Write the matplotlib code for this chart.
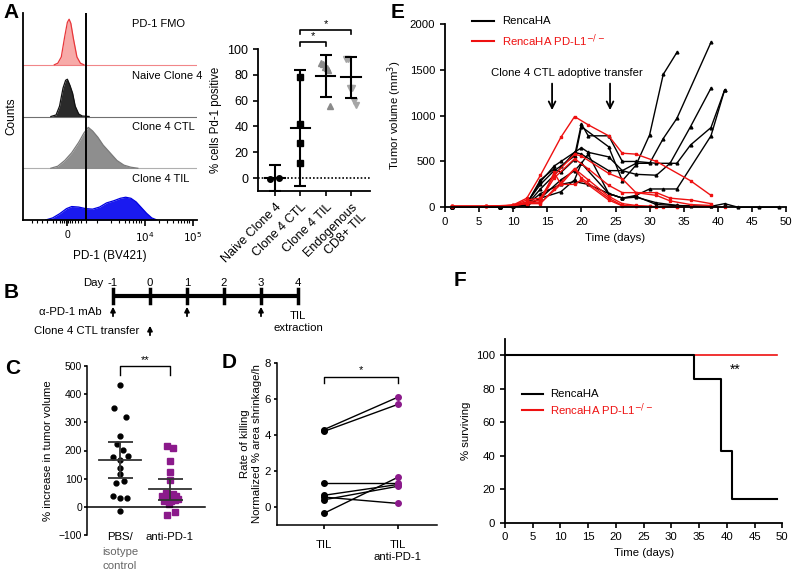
import numpy as np
import matplotlib.pyplot as plt

plt.rcParams['font.family'] = ['Liberation Sans', 'DejaVu Sans']
plt.rcParams['font.size'] = 8
plt.rcParams['axes.linewidth'] = 1.3
plt.rcParams['xtick.major.width'] = 1.2
plt.rcParams['ytick.major.width'] = 1.2
plt.rcParams['xtick.major.size'] = 3.5
plt.rcParams['ytick.major.size'] = 3.5

FS = 8.2

# ---------------- data ----------------
# A: histograms (display units along x, height relative to a lane)
hist_names = ['PD-1 FMO', 'Naive Clone 4', 'Clone 4 CTL', 'Clone 4 TIL']
fmo_x = [18, 20, 22, 24, 25.5, 26.5, 27.5, 29, 31, 33, 35]
fmo_h = [0, 0.03, 0.15, 0.55, 0.82, 0.88, 0.8, 0.5, 0.15, 0.03, 0]
naive_x = [16, 19, 21, 23, 24.5, 25.5, 27, 28.5, 30, 32, 34, 38]
naive_h = [0, 0.03, 0.2, 0.55, 0.7, 0.72, 0.6, 0.45, 0.2, 0.05, 0.01, 0]
ctl_x = [16, 20, 24, 28, 32, 35, 37.5, 40, 43, 46, 50, 54, 58, 62, 66]
ctl_h = [0, 0.04, 0.15, 0.3, 0.5, 0.68, 0.79, 0.72, 0.6, 0.45, 0.3, 0.15, 0.06, 0.02, 0]
til_x = [13, 17, 21, 25, 28, 32, 36, 40, 44, 48, 52, 56, 59, 62, 65, 68, 71, 74, 77]
til_h = [0, 0.04, 0.12, 0.22, 0.26, 0.25, 0.22, 0.21, 0.25, 0.33, 0.37, 0.42, 0.44,
         0.42, 0.35, 0.24, 0.13, 0.04, 0]
gate_pos = 36.2

# A: % cells PD-1 positive
a_groups = ['Naive Clone 4', 'Clone 4 CTL', 'Clone 4 TIL', 'Endogenous\nCD8+ TIL']
a_naive = [-1, 0]
a_ctl = [78, 42, 27, 12]
a_til = [89, 88, 86, 85, 84, 56]
a_endo = [92, 92, 70, 70, 60, 57]
a_mean = [0, 39, 79, 78]
a_sd = [10, 45, 16, 16]

# B: timeline
b_days = [-1, 0, 1, 2, 3, 4]
b_antibody = [-1, 1, 3]
b_transfer = [0]

# C: % increase in tumor volume
c_pbs = [432, 352, 320, 252, 222, 202, 182, 178, 165, 138, 115, 92, 86, 38, 33, 33, -15]
c_anti = [215, 210, 162, 125, 95, 50, 45, 40, 38, 35, 28, 25, 22, 20, 10, -20, -28]
c_mean = [167, 62]
c_lo = [103, 23]
c_hi = [230, 100]

# D: rate of killing
d_til = [4.3, 4.2, 1.35, 0.65, 0.55, 0.4, -0.35]
d_anti = [6.1, 5.7, 1.35, 1.25, 0.2, 1.15, 1.65]

# E: tumor growth curves (day, volume)
renca_days = [
    [1, 8, 10, 12, 14, 16, 17, 19, 20, 21, 24, 26, 28, 31, 34, 36, 39, 41],
    [1, 8, 10, 12, 14, 16, 17, 19, 20, 24, 26, 28, 30, 32, 34],
    [1, 8, 10, 12, 14, 16, 19, 20, 21, 24, 26, 28, 31, 33, 36, 39],
    [1, 8, 10, 12, 14, 17, 19, 20, 24, 26, 28, 30, 32, 34, 39, 41],
    [1, 8, 10, 12, 14, 16, 17, 19, 20, 24, 26, 28, 30, 32, 34, 39],
    [1, 8, 10, 12, 14, 17, 19, 21, 24, 26, 28, 31, 34, 39, 41, 43, 46, 49],
    [1, 8, 10, 12, 14, 17, 19, 20, 21, 24, 26, 28, 31, 34, 36, 39],
]
renca_vol = [
    [5, 5, 10, 50, 250, 400, 450, 560, 910, 780, 780, 500, 500, 480, 480, 680, 870, 1280],
    [5, 5, 10, 40, 300, 420, 380, 520, 880, 660, 290, 460, 790, 1450, 1690],
    [5, 5, 10, 30, 200, 350, 600, 650, 600, 550, 400, 360, 350, 480, 880, 1300],
    [5, 5, 10, 20, 100, 300, 400, 480, 150, 100, 130, 200, 200, 200, 780, 1280],
    [5, 5, 10, 40, 280, 450, 500, 600, 580, 400, 400, 480, 480, 750, 970, 1800],
    [5, 5, 10, 30, 150, 250, 280, 250, 150, 100, 120, 30, 20, 10, 40, 0, 0, 0],
    [5, 5, 10, 20, 100, 170, 300, 480, 580, 150, 100, 110, 50, 20, 10, 10],
]
ko_days = [
    [1, 6, 10, 12, 14, 17, 19, 21, 24, 26, 28, 31, 36, 39],
    [1, 6, 10, 12, 14, 16, 19, 20, 24, 26, 28, 31, 33, 36, 39],
    [1, 6, 10, 12, 14, 16, 19, 21, 24, 26, 28, 31, 33, 36, 39],
    [1, 6, 10, 12, 14, 16, 17, 19, 20, 24, 26, 28, 30, 32, 34],
    [1, 6, 10, 12, 14, 17, 19, 20, 24, 26, 28, 31, 34, 41],
    [1, 6, 10, 12, 14, 16, 19, 21, 24, 26, 28, 30],
]
ko_vol = [
    [10, 10, 25, 100, 350, 765, 990, 900, 780, 590, 580, 500, 290, 130],
    [10, 10, 20, 80, 100, 350, 580, 560, 370, 310, 160, 160, 100, 80, 40],
    [10, 10, 20, 60, 80, 320, 530, 420, 240, 160, 160, 130, 70, 30, 20],
    [10, 10, 20, 50, 60, 380, 250, 420, 320, 100, 20, 10, 10, 5, 5],
    [10, 10, 20, 40, 50, 250, 250, 300, 80, 15, 10, 5, 5, 5],
    [10, 10, 20, 40, 40, 200, 420, 300, 120, 40, 20, 10],
]
transfer_days = [15.7, 24.2]

# F: survival
f_days = [0, 34, 39, 41, 49]
f_renca = [100, 85.7, 42.9, 14.3, 14.3]
f_ko_days = [0, 49]
f_ko = [100, 100]

# ---------------- figure ----------------
W, H = 795, 572
fig = plt.figure(figsize=(W / 100, H / 100), dpi=100)


def add_ax(l, t, r, b):
    return fig.add_axes([l / W, 1 - b / H, (r - l) / W, (b - t) / H])


def strip(ax):
    ax.spines['top'].set_visible(False)
    ax.spines['right'].set_visible(False)
    ax.tick_params(direction='out')


# panel letters
for lab, x, y in [('A', 11, 12), ('B', 11, 293), ('C', 13, 368), ('D', 229, 362),
                  ('E', 398, 13), ('F', 460, 280)]:
    fig.text(x / W, 1 - y / H, lab, fontsize=15, fontweight='bold', ha='center', va='center')

# ---- A histograms ----
ax = add_ax(23, 13, 197, 220)
ax.set_xlim(0, 100)
ax.set_ylim(0, 4)
hist_data = [(fmo_x, fmo_h, '#f7aaa8', '#e8363a'), (naive_x, naive_h, '#2a2a2a', '#111111'),
             (ctl_x, ctl_h, '#8e8e8e', '#7a7a7a'), (til_x, til_h, '#1a1af0', '#0000e0')]
for i, (xs, hs, fc, ec) in enumerate(hist_data):
    base = 3 - i
    top = base + np.array(hs)
    ax.fill_between(xs, base, top, color=fc, lw=0)
    ax.plot(xs, top, color=ec, lw=0.9)
    if i < 3:
        ax.axhline(base, color=ec, lw=0.8, alpha=0.6)
    ax.text(62.6, base + 0.79, hist_names[i], fontsize=8, ha='left', va='center')
ax.axvline(gate_pos, color='black', lw=1.4)
ax.spines['top'].set_visible(False)
ax.spines['right'].set_visible(False)
ax.set_yticks([])
ax.set_xticks([25.3, 70.1, 97.7], ['0', '$10^4$', '$10^5$'])
minor = [5, 8, 11, 14, 17, 19, 21, 22.5, 23.5, 24.5, 26.1, 27.1, 28.1, 29.6, 31.5, 33.5, 36,
         42.5, 50.8, 55.4, 58.7, 61.2, 63.3, 65, 66.5, 67.8, 78.4, 83, 86.3, 88.8, 90.8,
         92.5, 94, 95.3]
ax.set_xticks(minor, minor=True)
ax.tick_params(axis='x', which='minor', length=2.5, width=0.8)
ax.tick_params(axis='x', which='major', length=4, labelsize=7.5, colors='black')
ax.set_ylabel('Counts', fontsize=8.5, labelpad=4)
ax.set_xlabel('PD-1 (BV421)', fontsize=8.5, labelpad=4)

# ---- A scatter ----
ax = add_ax(258, 49, 370, 191)
strip(ax)
ax.set_xlim(-0.67, 3.75)
ax.set_ylim(-10, 100)
ax.axhline(0, color='black', lw=1.2, ls=(0, (1, 1.2)))
ax.plot([-0.2, 0.16], a_naive, 'o', color='black', ms=4)
ax.plot(np.zeros(len(a_ctl)) + 1, a_ctl, 's', color='black', ms=4.5)
ax.plot(2 + np.linspace(-0.18, 0.18, len(a_til)), a_til, '^', color='#8a8a8a', ms=4.5)
ax.plot(3 + np.linspace(-0.18, 0.18, len(a_endo)), a_endo, 'v', color='#a6a6a6', ms=4.5)
for i, (m, s) in enumerate(zip(a_mean, a_sd)):
    ax.plot([i - 0.38, i + 0.38], [m, m], color='black', lw=1.5)
    ax.errorbar(i, m, yerr=s, color='black', lw=1.5, capsize=4, capthick=1.5)
ax.set_xticks(range(4), a_groups, rotation=45, ha='right', rotation_mode='anchor', fontsize=8.3)
ax.set_yticks([0, 20, 40, 60, 80, 100])
ax.tick_params(labelsize=9)
ax.set_ylabel('% cells Pd-1 positive', fontsize=8.3)
for x0, x1, y, dy in [(1, 2, 105.5, 3.5), (1, 3, 115, 3.5)]:
    ax.plot([x0, x0, x1, x1], [y - dy, y, y, y - dy], color='black', lw=1.2, clip_on=False)
    ax.text((x0 + x1) / 2, y + 0.5, '*', ha='center', va='bottom', fontsize=8)

# ---- E growth curves ----
ax = add_ax(445, 24, 786, 207.3)
strip(ax)
ax.set_xlim(0, 50)
ax.set_ylim(0, 2000)
for d, v in zip(renca_days, renca_vol):
    ax.plot(d, v, color='black', lw=1.0, marker='^', ms=2, clip_on=False)
for d, v in zip(ko_days, ko_vol):
    ax.plot(d, v, color='#ee1111', lw=1.0, marker='s', ms=2, clip_on=False)
ax.set_xticks(range(0, 51, 5))
ax.set_yticks(range(0, 2001, 500))
ax.tick_params(labelsize=FS)
ax.set_xlabel('Time (days)', fontsize=FS)
ax.set_ylabel('Tumor volume (mm$^3$)', fontsize=FS)
ax.text(17.9, 1470, 'Clone 4 CTL adoptive transfer', ha='center', va='center', fontsize=FS)
for t in transfer_days:
    ax.annotate('', xy=(t, 1030), xytext=(t, 1380),
                arrowprops=dict(arrowstyle='->', lw=1.3, color='black', mutation_scale=12))
ax.plot([0.079, 0.144], [1.016, 1.016], transform=ax.transAxes, color='black', lw=1.5, clip_on=False)
ax.plot([0.079, 0.144], [0.907, 0.907], transform=ax.transAxes, color='#ee1111', lw=1.5, clip_on=False)
ax.text(0.168, 1.016, 'RencaHA', transform=ax.transAxes, va='center', fontsize=FS)
ax.text(0.168, 0.907, 'RencaHA PD-L1$^{-/-}$', transform=ax.transAxes, va='center',
        fontsize=FS, color='#ee1111')

# ---- B timeline ----
ov = fig.add_axes([0, 0, 1, 1])
ov.set_xlim(0, W)
ov.set_ylim(H, 0)
ov.axis('off')
def day_x(d):
    return 113 + (d - b_days[0]) * 37
ov.plot([day_x(b_days[0]), day_x(b_days[-1])], [296, 296], color='black', lw=3, solid_capstyle='butt')
for d in b_days:
    ov.plot([day_x(d), day_x(d)], [289, 303], color='black', lw=2.5)
    ov.text(day_x(d), 283, f'{d}', ha='center', va='center', fontsize=FS)
ov.text(103, 283, 'Day', ha='right', va='center', fontsize=FS)
for d in b_antibody:
    ov.annotate('', xy=(day_x(d), 304), xytext=(day_x(d), 319),
                arrowprops=dict(arrowstyle='-|>', lw=1.3, color='black', mutation_scale=7))
for d in b_transfer:
    ov.annotate('', xy=(day_x(d), 323), xytext=(day_x(d), 338),
                arrowprops=dict(arrowstyle='-|>', lw=1.3, color='black', mutation_scale=7))
ov.text(102, 312, 'α-PD-1 mAb', ha='right', va='center', fontsize=FS)
ov.text(139, 331, 'Clone 4 CTL transfer', ha='right', va='center', fontsize=FS)
ov.text(day_x(b_days[-1]), 322, 'TIL\nextraction', ha='center', va='center', fontsize=FS,
        linespacing=1.15)

# ---- C ----
ax = add_ax(87, 366, 205, 535)
ax.spines['top'].set_visible(False)
ax.spines['right'].set_visible(False)
ax.spines['bottom'].set_position(('data', 0))
ax.spines['left'].set_linewidth(1.1)
ax.spines['bottom'].set_linewidth(1.1)
ax.set_xlim(-0.66, 1.7)
ax.set_ylim(-100, 500)
jit = np.array([0, -0.12, 0.12, 0, -0.06, 0.06, 0.15, -0.15, 0, 0, 0, 0.08, -0.08, -0.14, 0, 0.14, 0])
ax.plot(0 + jit[:len(c_pbs)], c_pbs, 'o', color='black', ms=3.5)
jit2 = np.array([-0.06, 0.06, 0, 0, 0, -0.08, 0.05, -0.16, 0.12, -0.04, 0.16, 0.09, -0.12, 0.02, -0.02, 0.1, -0.07])
ax.plot(1 + jit2[:len(c_anti)], c_anti, 's', color='#8b1a8b', ms=4)
for i in range(2):
    ax.plot([i - 0.42, i + 0.42], [c_mean[i], c_mean[i]], color='#333333', lw=1.3)
    ax.errorbar(i, c_mean[i], yerr=[[c_mean[i] - c_lo[i]], [c_hi[i] - c_mean[i]]],
                color='#333333', lw=1.3, capsize=9, capthick=1.3)
ax.set_xticks([])
ax.set_yticks(range(-100, 501, 100))
ax.tick_params(axis='y', labelsize=7.5, length=2.5, pad=1)
ax.set_ylabel('% increase in tumor volume', fontsize=FS, labelpad=4)
ax.text(0, -107, 'PBS/', ha='center', va='center', fontsize=8.2, clip_on=False)
ax.text(0, -160, 'isotype', ha='center', va='center', fontsize=8.2, color='#666666', clip_on=False)
ax.text(0, -210, 'control', ha='center', va='center', fontsize=8.2, color='#666666', clip_on=False)
ax.text(1, -107, 'anti-PD-1', ha='center', va='center', fontsize=8.2, clip_on=False)
ax.plot([0, 0, 1, 1], [467, 499, 499, 467], color='black', lw=1.0, clip_on=False)
ax.text(0.5, 505, '**', ha='center', va='bottom', fontsize=8)

# ---- D ----
ax = add_ax(277, 363, 437, 525)
strip(ax)
ax.spines['left'].set_linewidth(1.1)
ax.spines['bottom'].set_linewidth(1.1)
ax.set_xlim(-0.635, 1.53)
ax.set_ylim(-1, 8)
for a, b in zip(d_til, d_anti):
    ax.plot([0, 1], [a, b], color='black', lw=1.0)
ax.plot(np.zeros(len(d_til)), d_til, 'o', color='black', ms=4)
ax.plot(np.ones(len(d_anti)), d_anti, 'o', color='#8b1a8b', ms=4)
ax.set_xticks([0, 1], ['TIL', 'TIL\nanti-PD-1'], fontsize=FS)
ax.tick_params(axis='x', length=3, pad=8)
ax.set_yticks([0, 2, 4, 6, 8])
ax.tick_params(axis='y', labelsize=FS, length=2.5, pad=2)
ax.set_ylabel('Rate of killing\nNormalized % area shrinkage/h', fontsize=FS, labelpad=2)
ax.plot([0, 0, 1, 1], [6.9, 7.2, 7.2, 6.9], color='black', lw=1.0, clip_on=False)
ax.text(0.5, 7.35, '*', ha='center', va='bottom', fontsize=8)

# ---- F survival ----
ax = add_ax(505, 339.3, 782.3, 522.7)
strip(ax)
ax.set_xlim(0, 50)
ax.set_ylim(0, 109.4)
ax.step(f_ko_days, f_ko, where='post', color='#ee1111', lw=1.2, clip_on=False)
ax.step(f_days, f_renca, where='post', color='black', lw=1.5, clip_on=False)
ax.set_xticks(range(0, 51, 5))
ax.set_yticks(range(0, 101, 20))
ax.tick_params(labelsize=FS)
ax.set_xlabel('Time (days)', fontsize=FS)
ax.set_ylabel('% surviving', fontsize=FS)
ax.text(41.5, 91, '**', ha='center', va='center', fontsize=10)
ax.plot([0.061, 0.137], [0.70, 0.70], transform=ax.transAxes, color='black', lw=1.5)
ax.plot([0.061, 0.137], [0.614, 0.614], transform=ax.transAxes, color='#ee1111', lw=1.5)
ax.text(0.162, 0.70, 'RencaHA', transform=ax.transAxes, va='center', fontsize=FS)
ax.text(0.162, 0.614, 'RencaHA PD-L1$^{-/-}$', transform=ax.transAxes, va='center',
        fontsize=FS, color='#ee1111')

fig.savefig('out.png', dpi=100)
